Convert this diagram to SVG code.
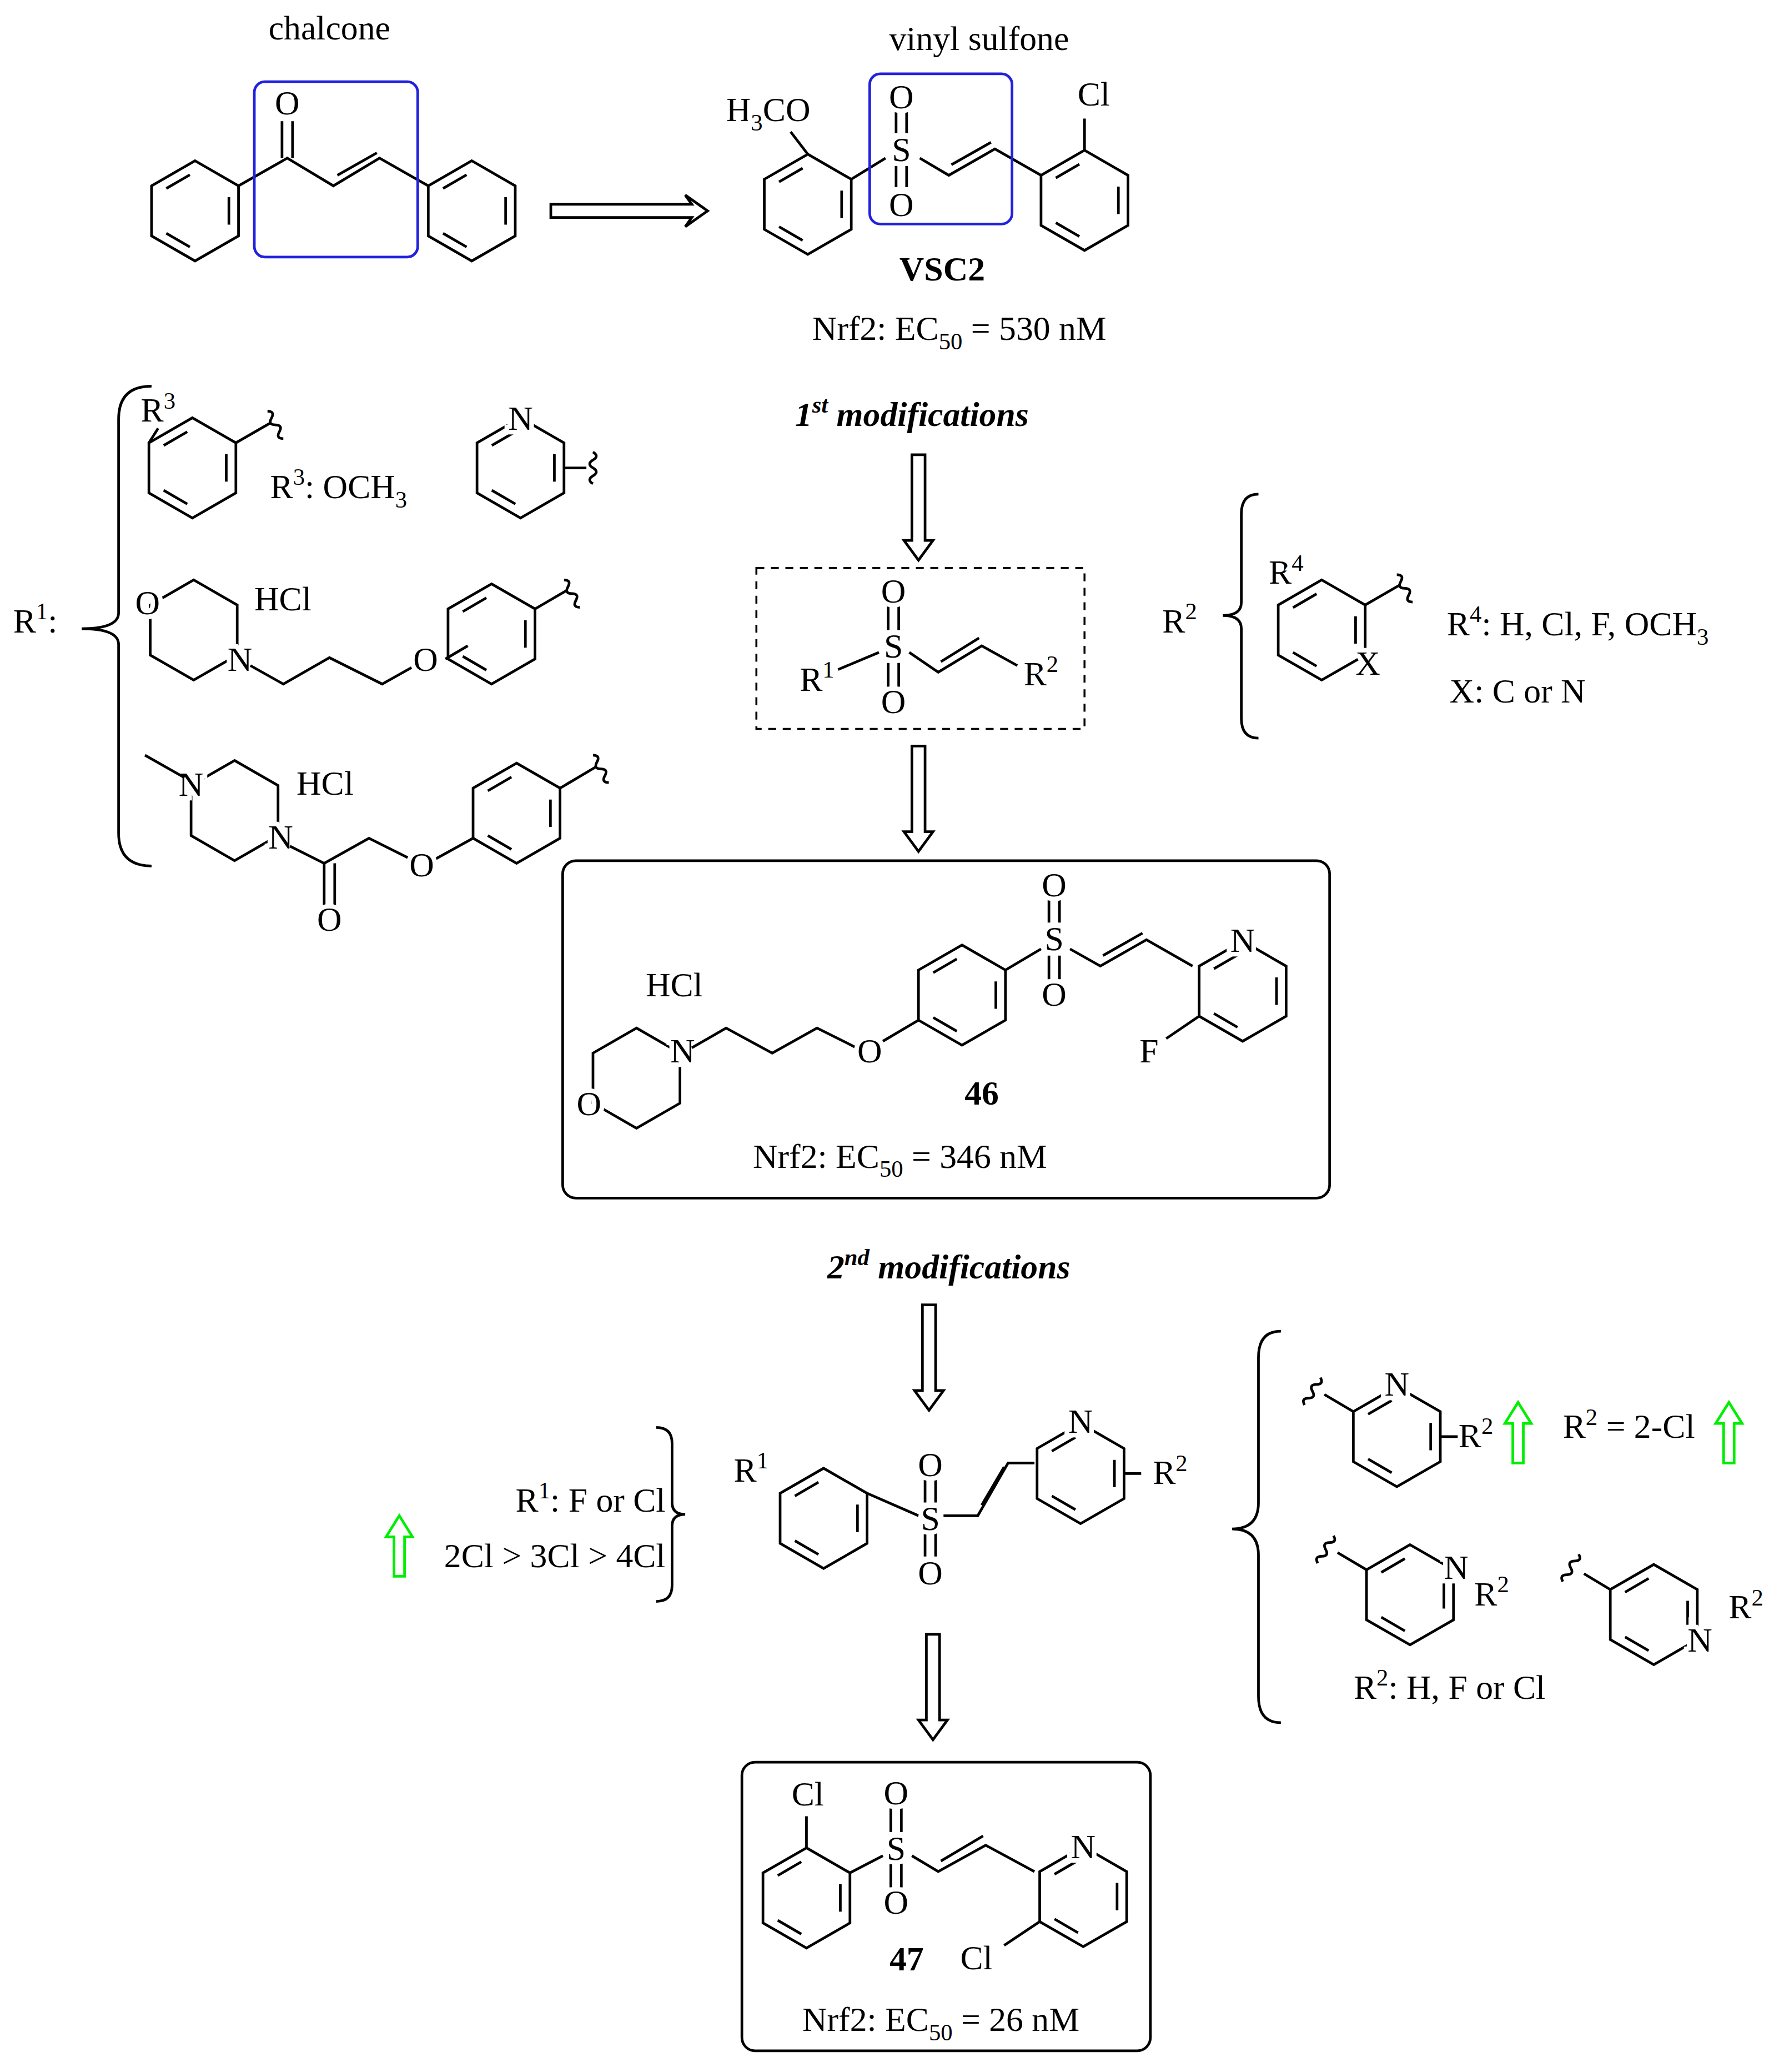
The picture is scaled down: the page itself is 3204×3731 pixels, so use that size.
<svg xmlns="http://www.w3.org/2000/svg" width="3204" height="3731" viewBox="0 0 3204 3731">
<style>
.b{stroke:#000;stroke-width:2;fill:none}
.t{font-family:"Liberation Serif",serif;font-size:26px;fill:#000}
.a{font-family:"Liberation Serif",serif;font-size:26px;fill:#000;text-anchor:middle;stroke:#fff;stroke-width:7px;paint-order:stroke}
.c{text-anchor:middle}
.g{stroke:#00ee00;stroke-width:2;fill:none}
</style>
<defs>
<g id="hex"><polygon class="b" points="0,-38 33,-19 33,19 0,38 -33,19 -33,-19"/>
<path class="b" d="M25.7,-10.4V10.4M-3.9,27.4L-21.8,17M-21.8,-17L-3.9,-27.4"/></g>
<path id="dn" class="b" d="M-5,0V65H-11L0,80L11,65H5V0Z"/>
<path id="up" class="g" d="M-4,30V0H-10L0,-16L10,0H4V30Z"/>
<path id="sq" class="b" d="M0,0q3,-5 6,0t6,0t6,0t6,0"/>
</defs>
<rect width="3204" height="3731" fill="#fff"/>
<g transform="scale(2.3733)">
<g id="chalcone">
<text class="t c" x="250" y="30">chalcone</text>
<use href="#hex" x="148" y="160"/><use href="#hex" x="358" y="160"/>
<path class="b" d="M181,141L218,120L253,141L288,120L325,141M256,133L286,116M214,120V92M222,120V92"/>
<text class="a" x="218" y="87">O</text>
<rect x="193" y="62" width="124" height="133" rx="8" fill="none" stroke="#2222dd" stroke-width="2"/>
</g>
<g id="connectors">
<path class="b" d="M418,155H525L520,148L537,160L520,172L525,165H418Z"/>
<use href="#dn" x="697" y="345"/><use href="#dn" x="697" y="566"/>
<use href="#dn" x="705" y="990"/><use href="#dn" x="708" y="1240"/>
</g>
<g id="vsc2">
<text class="t c" x="743" y="38">vinyl sulfone</text>
<use href="#hex" x="613" y="155"/><use href="#hex" x="823" y="152"/>
<path class="b" d="M613,117L600,100M646,136L672,120M698,120L720,133L755,113L790,133M722,125L752,108M823,114V90M680,85V101M688,85V101M680,126V142M688,126V142"/>
<text class="a" x="583" y="92">H<tspan font-size="18" dy="7">3</tspan><tspan dy="-7">CO</tspan></text>
<text class="a" x="684" y="82">O</text><text class="a" x="684" y="122">S</text><text class="a" x="684" y="164">O</text>
<text class="a" x="830" y="80">Cl</text>
<rect x="660" y="56" width="108" height="114" rx="8" fill="none" stroke="#2222dd" stroke-width="2"/>
<text class="t c" x="715" y="213" font-weight="bold">VSC2</text>
<text class="t c" x="728" y="258">Nrf2: EC<tspan font-size="18" dy="7">50</tspan><tspan dy="-7"> = 530 nM</tspan></text>
</g>
<text class="t c" x="692" y="323" font-weight="bold" font-style="italic">1<tspan font-size="18" dy="-10">st</tspan><tspan dy="10"> modifications</tspan></text>
<g id="r1group">
<text class="t" x="10" y="480">R<tspan font-size="18" dy="-10">1</tspan><tspan dy="10">:</tspan></text>
<path class="b" d="M115,293Q90,293 90,318V465Q90,477 62,477Q90,477 90,489V632Q90,657 115,657"/>
<use href="#hex" x="146" y="355"/>
<path class="b" d="M179,336L205,321M113,336L120,325"/><use href="#sq" x="203" y="312" transform="rotate(60 203 312)"/>
<text class="a" x="120" y="320">R<tspan font-size="18" dy="-10">3</tspan></text>
<text class="t" x="205" y="378">R<tspan font-size="18" dy="-10">3</tspan><tspan dy="10">: OCH</tspan><tspan font-size="18" dy="7">3</tspan></text>
<use href="#hex" x="395" y="355"/><path class="b" d="M428,355H445"/><use href="#sq" x="450" y="343" transform="rotate(90 450 343)"/>
<text class="a" x="395" y="326">N</text>
<polygon class="b" points="147,440 180,459 180,497 147,516 114,497 114,459"/>
<text class="a" x="112" y="466">O</text><text class="a" x="182" y="509">N</text>
<text class="t" x="193" y="463">HCl</text>
<path class="b" d="M190,505L215,519L250,499L290,519L315,505M338,500L355,490"/>
<text class="a" x="323" y="509">O</text>
<use href="#hex" x="373" y="481"/><path class="b" d="M406,462L430,448"/><use href="#sq" x="428" y="440" transform="rotate(60 428 440)"/>
<polygon class="b" points="178,577 211,596 211,634 178,653 145,634 145,596"/>
<text class="a" x="145" y="604">N</text><text class="a" x="213" y="644">N</text>
<path class="b" d="M140,590L110,573M220,642L246,655L280,636L312,652M246,655V688M254,655V688M330,652L359,636"/>
<text class="t" x="225" y="603">HCl</text>
<text class="a" x="250" y="706">O</text><text class="a" x="320" y="665">O</text>
<use href="#hex" x="392" y="617"/><path class="b" d="M425,598L452,582"/><use href="#sq" x="450" y="573" transform="rotate(60 450 573)"/>
</g>
<g id="core1">
<rect x="574" y="431" width="249" height="122" fill="none" stroke="#000" stroke-width="1.5" stroke-dasharray="6,5"/>
<path class="b" d="M636,508L667,495M690,495L712,510L745,490L772,505M714,502L743,484M674,460V478M682,460V478M674,503V521M682,503V521"/>
<text class="a" x="620" y="524">R<tspan font-size="18" dy="-10">1</tspan></text>
<text class="a" x="678" y="457">O</text><text class="a" x="678" y="499">S</text><text class="a" x="678" y="541">O</text>
<text class="a" x="790" y="520">R<tspan font-size="18" dy="-10">2</tspan></text>
</g>
<g id="r2group">
<text class="t" x="882" y="480">R<tspan font-size="18" dy="-10">2</tspan></text>
<path class="b" d="M955,375Q942,375 942,390V457Q942,467 928,467Q942,467 942,477V545Q942,560 955,560"/>
<use href="#hex" x="1003" y="478"/><path class="b" d="M1036,459L1062,444"/><use href="#sq" x="1060" y="436" transform="rotate(60 1060 436)"/>
<text class="a" x="976" y="443">R<tspan font-size="18" dy="-10">4</tspan></text>
<text class="a" x="1038" y="512">X</text>
<text class="t" x="1098" y="482">R<tspan font-size="18" dy="-10">4</tspan><tspan dy="10">: H, Cl, F, OCH</tspan><tspan font-size="18" dy="7">3</tspan></text>
<text class="t" x="1100" y="533">X: C or N</text>
</g>
<g id="cmpd46">
<rect x="427" y="653" width="582" height="256" rx="10" fill="none" stroke="#000" stroke-width="2"/>
<text class="t" x="490" y="756">HCl</text>
<polygon class="b" points="483,780 516,799 516,837 483,856 450,837 450,799"/>
<text class="a" x="447" y="846">O</text><text class="a" x="518" y="806">N</text>
<path class="b" d="M525,795L551,780L586,799L620,780L650,795M670,790L697,774M763,736L790,720M812,720L835,733L870,713L905,733M837,725L867,708M796,682V700M804,682V700M796,725V743M804,725V743M910,771L885,788"/>
<text class="a" x="660" y="806">O</text>
<use href="#hex" x="730" y="755"/><use href="#hex" x="943" y="752"/>
<text class="a" x="800" y="680">O</text><text class="a" x="800" y="721">S</text><text class="a" x="800" y="763">O</text>
<text class="a" x="943" y="722">N</text><text class="a" x="872" y="806">F</text>
<text class="t c" x="745" y="838" font-weight="bold">46</text>
<text class="t c" x="683" y="886">Nrf2: EC<tspan font-size="18" dy="7">50</tspan><tspan dy="-7"> = 346 nM</tspan></text>
</g>
<text class="t c" x="720" y="970" font-weight="bold" font-style="italic">2<tspan font-size="18" dy="-10">nd</tspan><tspan dy="10"> modifications</tspan></text>
<g id="core2">
<use href="#hex" x="625" y="1152"/><use href="#hex" x="820" y="1118"/>
<path class="b" d="M658,1133L697,1150M716,1150L742,1150L765,1110L785,1110M745,1142L762,1113M702,1122V1140M710,1122V1140M702,1163V1181M710,1163V1181M853,1118H866"/>
<text class="a" x="570" y="1124">R<tspan font-size="18" dy="-10">1</tspan></text>
<text class="a" x="706" y="1120">O</text><text class="a" x="706" y="1161">S</text><text class="a" x="706" y="1202">O</text>
<text class="a" x="820" y="1087">N</text>
<text class="a" x="888" y="1126">R<tspan font-size="18" dy="-10">2</tspan></text>
<text class="t" x="505" y="1147" text-anchor="end">R<tspan font-size="18" dy="-10">1</tspan><tspan dy="10">: F or Cl</tspan></text>
<use href="#up" x="303" y="1166"/>
<text class="t" x="505" y="1189" text-anchor="end">2Cl &gt; 3Cl &gt; 4Cl</text>
<path class="b" d="M498,1083Q510,1083 510,1095V1140Q510,1149 520,1149Q510,1149 510,1158V1203Q510,1215 498,1215"/>
</g>
<g id="r2set">
<path class="b" d="M972,1010Q955,1010 955,1030V1140Q955,1160 935,1160Q955,1160 955,1180V1287Q955,1307 972,1307"/>
<use href="#hex" x="1060" y="1090"/><path class="b" d="M1027,1071L1005,1058M1093,1090H1108"/><use href="#sq" x="990" y="1066" transform="rotate(-60 990 1066)"/>
<text class="a" x="1060" y="1059">N</text>
<text class="a" x="1120" y="1098">R<tspan font-size="18" dy="-10">2</tspan></text>
<use href="#up" x="1152" y="1080"/>
<text class="t" x="1186" y="1091">R<tspan font-size="18" dy="-10">2</tspan><tspan dy="10"> = 2-Cl</tspan></text>
<use href="#up" x="1312" y="1080"/>
<use href="#hex" x="1070" y="1210"/><path class="b" d="M1037,1191L1015,1178"/><use href="#sq" x="1000" y="1186" transform="rotate(-60 1000 1186)"/>
<text class="a" x="1105" y="1198">N</text>
<text class="a" x="1132" y="1218">R<tspan font-size="18" dy="-10">2</tspan></text>
<use href="#hex" x="1255" y="1225"/><path class="b" d="M1222,1206L1202,1194"/><use href="#sq" x="1186" y="1200" transform="rotate(-60 1186 1200)"/>
<text class="a" x="1290" y="1253">N</text>
<text class="a" x="1325" y="1228">R<tspan font-size="18" dy="-10">2</tspan></text>
<text class="t" x="1100" y="1289" text-anchor="middle">R<tspan font-size="18" dy="-10">2</tspan><tspan dy="10">: H, F or Cl</tspan></text>
</g>
<g id="cmpd47">
<rect x="563" y="1337" width="310" height="219" rx="10" fill="none" stroke="#000" stroke-width="2"/>
<use href="#hex" x="612" y="1440"/><use href="#hex" x="822" y="1439"/>
<path class="b" d="M612,1402V1378M645,1421L670,1408M692,1408L712,1420L748,1400L785,1420M714,1412L746,1393M676,1372V1390M684,1372V1390M676,1414V1432M684,1414V1432M789,1458L762,1476"/>
<text class="a" x="613" y="1370">Cl</text>
<text class="a" x="680" y="1369">O</text><text class="a" x="680" y="1411">S</text><text class="a" x="680" y="1452">O</text>
<text class="a" x="822" y="1410">N</text><text class="a" x="741" y="1494">Cl</text>
<text class="t c" x="688" y="1495" font-weight="bold">47</text>
<text class="t c" x="714" y="1541">Nrf2:  EC<tspan font-size="18" dy="7">50</tspan><tspan dy="-7"> = 26 nM</tspan></text>
</g>
</g>
</svg>
